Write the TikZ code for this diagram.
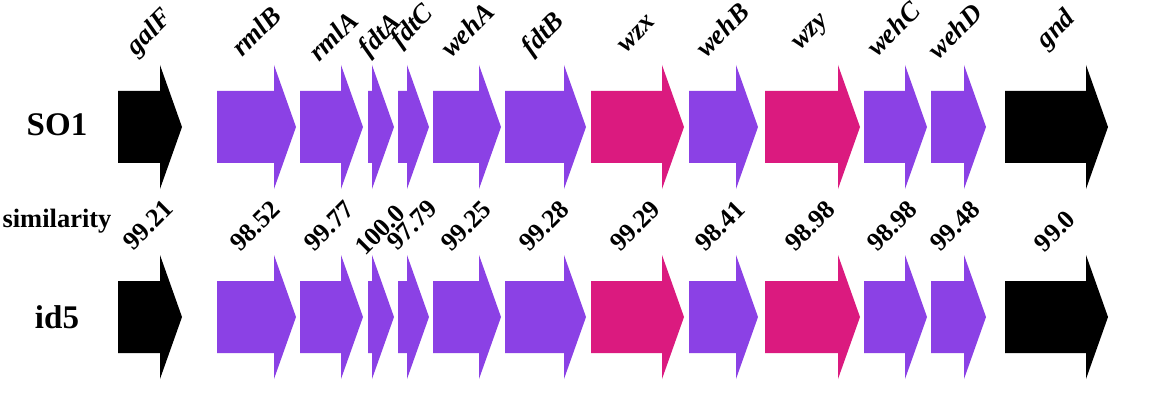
\documentclass[tikz,border=0pt]{standalone}
\usepackage{fontspec}
\setmainfont{Liberation Serif}
\definecolor{genepurple}{HTML}{8B41E5}
\definecolor{genepink}{HTML}{DB1A7F}
\tikzset{
  genelabel/.style={rotate=45,anchor=center,inner sep=0pt,font=\fontsize{27}{30}\selectfont\bfseries\itshape},
  simlabel/.style={rotate=45,anchor=center,inner sep=0pt,font=\fontsize{26}{28}\selectfont\bfseries},
  rowlabel/.style={anchor=center,inner sep=0pt,font=\fontsize{33}{36}\selectfont\bfseries},
  simtitle/.style={anchor=center,inner sep=0pt,font=\fontsize{26.5}{28}\selectfont\bfseries},
}
\begin{document}
\begin{tikzpicture}[x={(1pt,0pt)},y={(0pt,-1pt)}]
\useasboundingbox[fill=white] (0,0) rectangle (1150,406);
% gene arrows: left / tip / colour
\foreach \l/\t/\c in {118/182/black,217/296/genepurple,300/363/genepurple,368/394/genepurple,398/429/genepurple,433/501/genepurple,505/586/genepurple,591/684/genepink,689/758/genepurple,765/860/genepink,864/927/genepurple,931/986/genepurple,1005/1108/black}{
  \foreach \cy in {127,317}{
    \fill[\c] (\l,\cy-36) -- (\t-22,\cy-36) -- (\t-22,\cy-62) -- (\t,\cy) -- (\t-22,\cy+62) -- (\t-22,\cy+36) -- (\l,\cy+36) -- cycle;
  }
}
% row labels
\node[rowlabel] (so1) at (57,125) {SO1};
\node[simtitle] (sim) at (57,221) {similarity};
\node[rowlabel] (id5) at (57,317) {id5};
% gene labels
\node[genelabel] (g1) at (150,33) {galF};
\node[genelabel] (g2) at (256,31) {rmlB};
\node[genelabel] (g3) at (333,36) {rmlA};
\node[genelabel] (g4) at (381,36) {fdtA};
\node[genelabel] (g5) at (413,27) {fdtC};
\node[genelabel] (g6) at (467,30) {wehA};
\node[genelabel] (g7) at (544,35) {fdtB};
\node[genelabel] (g8) at (637,34) {wzx};
\node[genelabel] (g9) at (722,30) {wehB};
\node[genelabel] (g10) at (812,34) {wzy};
\node[genelabel] (g11) at (893,29) {wehC};
\node[genelabel] (g12) at (955,31) {wehD};
\node[genelabel] (g13) at (1057,30) {gnd};
% similarity values
\node[simlabel] (s1) at (148,225) {99.21};
\node[simlabel] (s2) at (255,226) {98.52};
\node[simlabel] (s3) at (329,226) {99.77};
\node[simlabel] (s4) at (380,230) {100.0};
\node[simlabel] (s5) at (412,225) {97.79};
\node[simlabel] (s6) at (466,226) {99.25};
\node[simlabel] (s7) at (544,226) {99.28};
\node[simlabel] (s8) at (635,226) {99.29};
\node[simlabel] (s9) at (720,226) {98.41};
\node[simlabel] (s10) at (810,226) {98.98};
\node[simlabel] (s11) at (892,226) {98.98};
\node[simlabel] (s12) at (955,226) {99.48};
\node[simlabel] (s13) at (1055,231) {99.0};
\end{tikzpicture}
\end{document}
